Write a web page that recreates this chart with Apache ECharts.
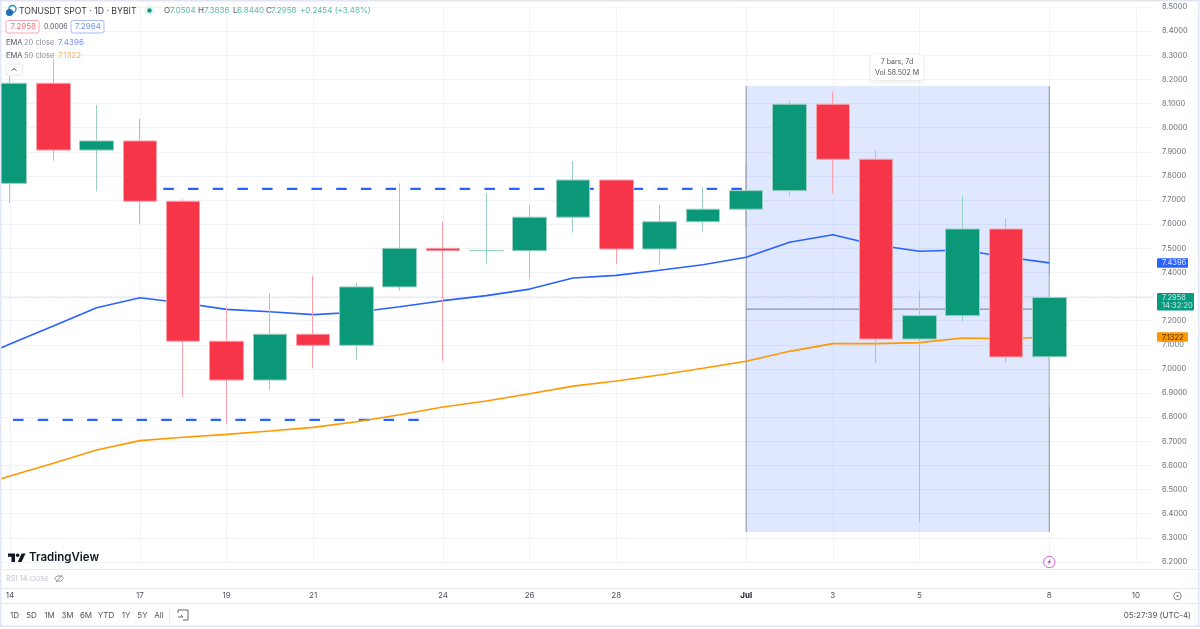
<!DOCTYPE html>
<html lang="en">
<head>
    <meta charset="UTF-8">
    <title>TONUSDT</title>
    <script src="https://cdn.jsdelivr.net/npm/echarts@6/dist/echarts.min.js"></script>
    <style>
        html, body { margin: 0; padding: 0; background: #fff; }
        #main { width: 1200px; height: 629px; }
    </style>
</head>
<body>
<div id="main"></div>
<script type="text/javascript">
    var myChart = echarts.init(document.getElementById('main'));
    var FONT = 'Inter, "Noto Sans", sans-serif';

    // open, close, low, high. Index 0 is the 14th
    var candles = [
        [7.769, 8.184, 7.688, 8.214],
        [8.184, 7.907, 7.863, 8.283],
        [7.907, 7.945, 7.736, 8.094],
        [7.945, 7.695, 7.601, 8.037],
        [7.695, 7.115, 6.885, 7.703],
        [7.115, 6.954, 6.772, 7.258],
        [6.954, 7.144, 6.913, 7.314],
        [7.144, 7.098, 7.003, 7.387],
        [7.098, 7.340, 7.037, 7.355],
        [7.340, 7.500, 7.324, 7.769],
        [7.500, 7.490, 7.034, 7.612],
        [7.490, 7.491, 7.435, 7.728],
        [7.490, 7.629, 7.376, 7.680],
        [7.629, 7.783, 7.565, 7.862],
        [7.783, 7.497, 7.435, 7.783],
        [7.497, 7.610, 7.431, 7.680],
        [7.610, 7.662, 7.569, 7.755],
        [7.662, 7.739, 7.584, 7.854],
        [7.739, 8.097, 7.717, 8.112],
        [8.097, 7.869, 7.728, 8.149],
        [7.869, 7.124, 7.024, 7.907],
        [7.124, 7.221, 6.365, 7.323],
        [7.221, 7.580, 7.196, 7.717],
        [7.580, 7.050, 7.026, 7.624],
        [7.0504, 7.2958, 6.844, 7.3836]
    ];
    // first value belongs to the bar before the visible range
    var ema20 = [7.025, 7.103, 7.178, 7.254, 7.295, 7.273, 7.247, 7.237, 7.225, 7.235, 7.258, 7.283, 7.304,
        7.331, 7.377, 7.388, 7.409, 7.432, 7.463, 7.525, 7.556, 7.514, 7.488, 7.493, 7.464, 7.4396];
    var ema50 = [6.502, 6.556, 6.609, 6.664, 6.703, 6.717, 6.729, 6.743, 6.758, 6.781, 6.810, 6.842, 6.867,
        6.897, 6.929, 6.950, 6.975, 7.003, 7.032, 7.073, 7.105, 7.105, 7.109, 7.128, 7.125, 7.1322];

    var dayLabels = {0: '14', 3: '17', 5: '19', 7: '21', 10: '24', 12: '26', 14: '28', 17: '{b|Jul}', 19: '3', 21: '5', 24: '8', 26: '10'};
    var labelIdx = Object.keys(dayLabels).map(Number);

    function toPairs(list) {
        return list.map(function (v, i) { return [i - 1, v]; });
    }
    function plainLine(data, color, width, type, z) {
        return {
            type: 'line', data: data, symbol: 'none', z: z, silent: true, smooth: false,
            lineStyle: {color: color, width: width, type: type || 'solid'}
        };
    }

    var option = {
        animation: false,
        backgroundColor: '#fff',
        textStyle: {fontFamily: FONT},
        grid: {left: 0, top: 7, width: 1153, height: 555, containLabel: false},
        xAxis: {
            type: 'value', min: -0.231, max: 26.395,
            axisLine: {show: false},
            axisTick: {show: false, customValues: labelIdx},
            splitLine: {show: true, lineStyle: {color: '#f0f3fa', width: 1}},
            axisLabel: {
                customValues: labelIdx, margin: 30, color: '#50535e', fontSize: 8, fontFamily: FONT,
                formatter: function (v) { return dayLabels[v] || ''; },
                rich: {b: {fontWeight: 'bold', fontSize: 8, color: '#131722', fontFamily: FONT}}
            }
        },
        yAxis: {
            type: 'value', position: 'right', min: 6.2, max: 8.5, interval: 0.1,
            axisLine: {show: false},
            axisTick: {show: false},
            splitLine: {show: true, lineStyle: {color: '#f0f3fa', width: 1}},
            axisLabel: {
                margin: 9, color: '#6a6d78', fontSize: 7.5, fontFamily: FONT,
                formatter: function (v) { return v.toFixed(4); }
            }
        },
        series: [
            // measure tool
            {
                type: 'line', data: [], z: 1, silent: true,
                markArea: {
                    silent: true, z: 1,
                    itemStyle: {color: 'rgba(41,98,255,0.15)'},
                    data: [[{coord: [17, 8.173]}, {coord: [24, 6.324]}]]
                }
            },
            plainLine([[17, 8.173], [17, 6.324]], '#9a9fae', 1.2, null, 2),
            plainLine([[24, 8.173], [24, 6.324]], '#9a9fae', 1.2, null, 2),
            plainLine([[17, 7.248], [24, 7.248]], '#787b86', 1, null, 2),
            // last price
            plainLine([[-1, 7.2958], [27, 7.2958]], 'rgba(8,153,129,0.4)', 1, [1, 2], 2),
            // drawn levels
            plainLine([[3.54, 7.746], [17, 7.746]], '#2962ff', 2.2, [10.5, 14.2], 3),
            plainLine([[-0.5, 6.789], [9.75, 6.789]], '#2962ff', 2.2, [10.5, 14.2], 3),
            plainLine(toPairs(ema20), '#2962ff', 1.6, null, 3),
            plainLine(toPairs(ema50), '#ff9800', 1.6, null, 3),
            {
                type: 'candlestick', z: 4, silent: true, barWidth: 34,
                encode: {x: 0, y: [1, 2, 3, 4]},
                data: candles.map(function (c, i) { return [i, c[0], c[1], c[2], c[3]]; }),
                itemStyle: {
                    color: '#0a9879', color0: '#f63548',
                    borderColor: '#9ccfc3', borderColor0: '#f9a2ac', borderWidth: 1
                }
            }
        ]
    };
    myChart.setOption(option);

    function txt(x, y, text, fill, size, extra) {
        var style = {
            x: x, y: y, text: text, fill: fill, fontSize: size || 8.5, fontFamily: FONT,
            textVerticalAlign: 'middle', verticalAlign: 'middle'
        };
        for (var k in (extra || {})) style[k] = extra[k];
        return {type: 'text', z: 50, silent: true, style: style};
    }
    function box(x, y, w, h, fill, stroke, r) {
        return {
            type: 'rect', z: 49, silent: true, shape: {x: x, y: y, width: w, height: h, r: r === undefined ? 2 : r},
            style: {fill: fill, stroke: stroke || null, lineWidth: stroke ? 1 : 0}
        };
    }
    function hline(y, x1, x2, color, w) {
        return {type: 'line', z: 48, silent: true, shape: {x1: x1, y1: y, x2: x2, y2: y}, style: {stroke: color, lineWidth: w || 1}};
    }
    function poly(type, points, style) {
        return {type: type, z: 50, silent: true, shape: {points: points}, style: style};
    }
    function yPx(v) {
        return myChart.convertToPixel({yAxisIndex: 0}, v);
    }
    function xPx(v) {
        return myChart.convertToPixel({xAxisIndex: 0}, v);
    }

    var G = '#5cbba5', gr = [];
    // header
    gr.push({type: 'circle', z: 50, silent: true, shape: {cx: 12.5, cy: 9, r: 3.5}, style: {fill: 'none', stroke: '#1f8fc4', lineWidth: 1.3}});
    gr.push({type: 'circle', z: 50, silent: true, shape: {cx: 9.5, cy: 12.5, r: 3.6}, style: {fill: '#1f6fb5'}});
    gr.push(txt(19, 11, 'TONUSDT SPOT · 1D · BYBIT', '#3a3d47', 8.7));
    gr.push({type: 'circle', z: 50, silent: true, shape: {cx: 149.5, cy: 10.5, r: 5}, style: {fill: '#e3f3ef'}});
    gr.push({type: 'circle', z: 50, silent: true, shape: {cx: 149.5, cy: 10.5, r: 2.2}, style: {fill: '#089981'}});
    [[164, 'O', 170, '7.0504'], [198, 'H', 204, '7.3836'], [233, 'L', 237, '6.8440'], [266, 'C', 271, '7.2958']].forEach(function (p) {
        gr.push(txt(p[0], 11, p[1], '#50535e', 8));
        gr.push(txt(p[2], 11, p[3], G, 8));
    });
    gr.push(txt(300, 11, '+0.2454 (+3.48%)', G, 8));
    gr.push(box(6, 20.5, 33, 12.5, '#fff', '#f7a9b1', 2));
    gr.push(txt(10.5, 27, '7.2958', '#f4707e', 8));
    gr.push(txt(44, 27, '0.0006', '#50535e', 7));
    gr.push(box(71, 20.5, 33, 12.5, '#fff', '#a5bbfb', 2));
    gr.push(txt(75, 27, '7.2964', '#6f93fb', 8));
    gr.push(txt(6, 42.5, 'EMA', '#50535e', 7.5));
    gr.push(txt(24, 42.5, '20 close', '#8a8d98', 7.5));
    gr.push(txt(58, 42.5, '7.4396', '#6f93fb', 8));
    gr.push(txt(6, 56, 'EMA', '#50535e', 7.5));
    gr.push(txt(24, 56, '50 close', '#8a8d98', 7.5));
    gr.push(txt(58, 56, '7.1322', '#fbb45a', 8));
    gr.push(box(6, 64, 16.5, 11, '#fff', '#e6e8ee', 2));
    gr.push(poly('polyline', [[11.5, 70.5], [14, 68.5], [16.5, 70.5]], {fill: 'none', stroke: '#50535e', lineWidth: 1}));

    // measure tooltip
    gr.push({
        type: 'rect', z: 49, silent: true, shape: {x: 871, y: 55, width: 52, height: 25, r: 2},
        style: {fill: '#fff', shadowBlur: 5, shadowColor: 'rgba(0,0,0,0.12)', shadowOffsetY: 1}
    });
    gr.push(txt(897, 62, '7 bars, 7d', '#50535e', 7, {align: 'center', textAlign: 'center'}));
    gr.push(txt(897, 73, 'Vol 58.502 M', '#50535e', 7, {align: 'center', textAlign: 'center'}));

    // TradingView mark
    gr.push(poly('polygon', [[8, 553.5], [15, 553.5], [15, 562], [11.5, 562], [11.5, 556.8], [8, 556.8]], {fill: '#131722'}));
    gr.push(poly('polygon', [[21.5, 553.5], [25.5, 553.5], [21.5, 562], [17.8, 562]], {fill: '#131722'}));
    gr.push({type: 'circle', z: 50, silent: true, shape: {cx: 17.6, cy: 555.3, r: 1.8}, style: {fill: '#131722'}});
    gr.push(txt(29, 557.5, 'TradingView', '#131722', 11.5, {fontWeight: 600}));

    // panes below the chart
    gr.push(hline(569.5, 0, 1200, '#e6e9f2'));
    gr.push(hline(588.5, 0, 1200, '#e6e9f2'));
    gr.push(hline(603.5, 0, 1200, '#e6e9f2'));
    gr.push(txt(6, 579, 'RSI 14 close', '#c3c6cf', 7.5));
    gr.push(poly('polygon', [[54.5, 578.5], [57, 576], [61, 576], [63.5, 578.5], [61, 581], [57, 581]], {fill: 'none', stroke: '#8a8d98', lineWidth: 0.9}));
    gr.push({type: 'line', z: 50, silent: true, shape: {x1: 56, y1: 582, x2: 62, y2: 575}, style: {stroke: '#8a8d98', lineWidth: 0.9}});

    var ranges = [[14.5, '1D'], [31.5, '5D'], [49.5, '1M'], [67.5, '3M'], [86, '6M'], [106, 'YTD'], [126, '1Y'], [142.5, '5Y'], [159, 'All']];
    ranges.forEach(function (r) {
        gr.push(txt(r[0], 616, r[1], '#50535e', 8, {align: 'center', textAlign: 'center'}));
    });
    gr.push({type: 'line', z: 50, silent: true, shape: {x1: 169.5, y1: 609, x2: 169.5, y2: 622}, style: {stroke: '#e6e9f2', lineWidth: 1}});
    gr.push(poly('polyline', [[178, 613], [178, 610], [188, 610], [188, 620], [183, 620]], {fill: 'none', stroke: '#50535e', lineWidth: 0.9}));
    gr.push(poly('polyline', [[178, 617], [183, 617], [181, 615]], {fill: 'none', stroke: '#50535e', lineWidth: 0.9}));
    gr.push(txt(1191, 616, '05:27:39 (UTC-4)', '#50535e', 8, {align: 'right', textAlign: 'right'}));
    gr.push({type: 'circle', z: 50, silent: true, shape: {cx: 1177.5, cy: 596, r: 3.8}, style: {fill: 'none', stroke: '#787b86', lineWidth: 0.9}});
    gr.push({type: 'circle', z: 50, silent: true, shape: {cx: 1177.5, cy: 596, r: 1.1}, style: {fill: '#787b86'}});

    // flash marker on the last bar
    var xLast = xPx(24);
    gr.push({type: 'circle', z: 50, silent: true, shape: {cx: xLast, cy: 562, r: 5.7}, style: {fill: '#fff', stroke: '#d65fdc', lineWidth: 1}});
    gr.push({
        type: 'polygon', z: 51, silent: true,
        shape: {points: [[xLast + 1.6, 558.5], [xLast - 2, 562.8], [xLast - 0.2, 562.8], [xLast - 1.6, 565.5], [xLast + 2, 561.2], [xLast + 0.2, 561.2]]},
        style: {fill: '#b93fc0'}
    });

    // price tags, placed from the series' last values
    var y20 = yPx(7.4396), y50 = yPx(7.1322), yLast = yPx(7.2958);
    gr.push(box(1157, y20 - 4.7, 31, 9.5, '#2962ff', null, 1));
    gr.push(txt(1162, y20 + 0.2, '7.4396', '#dfe7ff', 7.5));
    gr.push(box(1157, y50 - 4.7, 31, 9.5, '#ff9800', null, 1));
    gr.push(txt(1162, y50 + 0.2, '7.1322', '#4a3208', 7.5));
    gr.push(box(1157, yLast - 4.7, 37, 17.5, '#089981', null, 1));
    gr.push(txt(1162, yLast + 0.5, '7.2958', '#c9ebe3', 7.5));
    gr.push(txt(1162, yLast + 8.5, '14:32:20', '#c9ebe3', 7.5));

    // window frame
    gr.push(box(0, 0, 1200, 1.5, '#e2e5ef', null, 0));
    gr.push(box(0, 0, 1.5, 627, '#e2e7f5', null, 0));
    gr.push(box(1198, 0, 1.5, 627, '#e2e7f5', null, 0));
    gr.push(box(0, 625.5, 1200, 1.5, '#dfe4f2', null, 0));

    myChart.setOption({graphic: gr});
</script>
</body>
</html>
